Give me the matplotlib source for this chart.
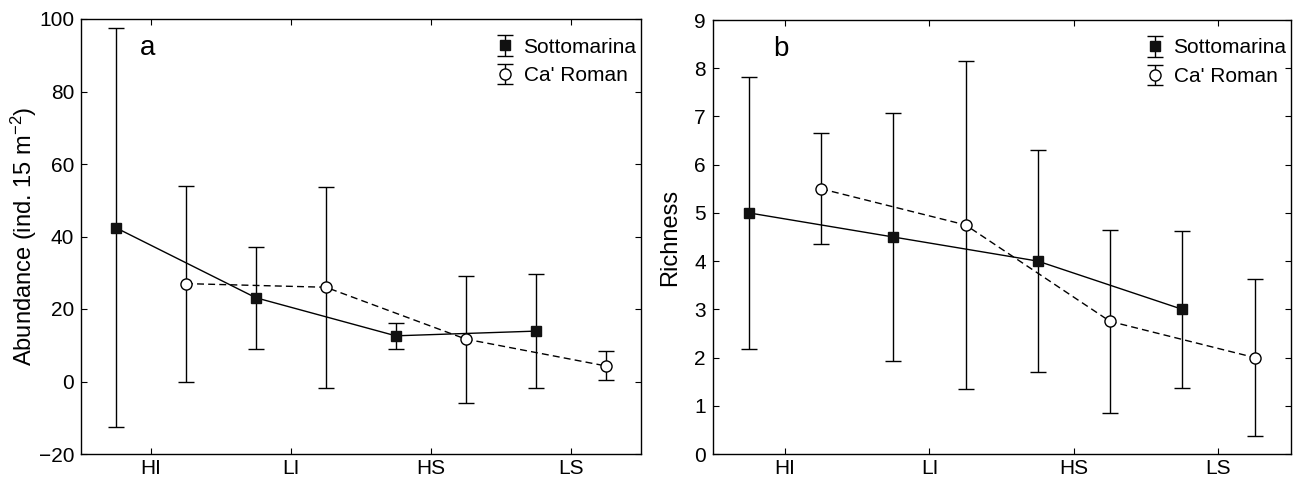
import numpy as np
import matplotlib
matplotlib.use("Agg")
import matplotlib.pyplot as plt

plt.rcParams['font.family'] = ['Liberation Sans', 'DejaVu Sans']
plt.rcParams['mathtext.fontset'] = 'custom'
plt.rcParams['mathtext.rm'] = 'Liberation Sans'
plt.rcParams['mathtext.it'] = 'Liberation Sans'

# data
categories = ['HI', 'LI', 'HS', 'LS']
sites = ["Sottomarina", "Ca' Roman"]

abund_sotto = [42.4, 23.1, 12.6, 13.9]
abund_sotto_err = [55.0, 14.1, 3.6, 15.7]
abund_ca = [27.0, 26.0, 11.7, 4.3]
abund_ca_err = [27.0, 27.7, 17.5, 4.0]

rich_sotto = [5.0, 4.5, 4.0, 3.0]
rich_sotto_err = [2.82, 2.58, 2.3, 1.63]
rich_ca = [5.5, 4.75, 2.75, 2.0]
rich_ca_err = [1.15, 3.41, 1.9, 1.63]


def draw_panel(ax, sotto, sotto_err, ca, ca_err, ylim, yticks, ylabel, letter, label_x):
    x = np.arange(len(categories))
    # connecting lines first, then markers + error bars on top
    ax.plot(x - 0.25, sotto, color='black', lw=1.0, zorder=2)
    ax.plot(x + 0.25, ca, color='black', lw=1.0, ls=(0, (5, 3)), zorder=2)
    ax.errorbar(x - 0.25, sotto, yerr=sotto_err, color='black', ls='none',
                marker='s', ms=7, mfc='#111111', mec='#111111',
                capsize=6, elinewidth=1.0, capthick=1.0, label=sites[0], zorder=3)
    ax.errorbar(x + 0.25, ca, yerr=ca_err, color='black', ls='none',
                marker='o', ms=8, mfc='white', mec='black', mew=1.0,
                capsize=6, elinewidth=1.0, capthick=1.0, label=sites[1], zorder=3)
    ax.set_xlim(-0.5, 3.5)
    ax.set_ylim(*ylim)
    ax.set_xticks(x)
    ax.set_xticklabels(categories)
    ax.set_yticks(yticks)
    ax.set_ylabel(ylabel, fontsize=17)
    ax.yaxis.set_label_coords(label_x, 0.5)
    ax.tick_params(direction='in', top=True, right=True, length=4,
                   labelsize=15, width=0.8)
    ax.tick_params(axis='x', pad=3.5)
    ax.tick_params(axis='y', pad=5)
    for s in ax.spines.values():
        s.set_linewidth(1.0)
    ax.text(0.105, 0.917, letter, transform=ax.transAxes, fontsize=20,
            va='baseline', ha='left')
    ax.legend(loc='upper right', bbox_to_anchor=(1.0, 0.967), frameon=False,
              fontsize=15, handlelength=0.8, handletextpad=0.5,
              borderaxespad=0.0, borderpad=0.2, labelspacing=0.47)


fig = plt.figure(figsize=(12.96, 4.78), dpi=100)
W, H = 1296, 478
ax1 = fig.add_axes([81 / W, 1 - 454 / H, (640.7 - 81) / W, (454 - 19) / H])
ax2 = fig.add_axes([712.7 / W, 1 - 454 / H, (1290.7 - 712.7) / W, (454 - 20) / H])

draw_panel(ax1, abund_sotto, abund_sotto_err, abund_ca, abund_ca_err,
           (-20, 100), np.arange(-20, 101, 20), 'Abundance (ind. 15 m$^{-2}$)', 'a', -0.075)
draw_panel(ax2, rich_sotto, rich_sotto_err, rich_ca, rich_ca_err,
           (0, 9), np.arange(0, 10, 1), 'Richness', 'b', -0.055)

fig.savefig('out.png', dpi=100)
